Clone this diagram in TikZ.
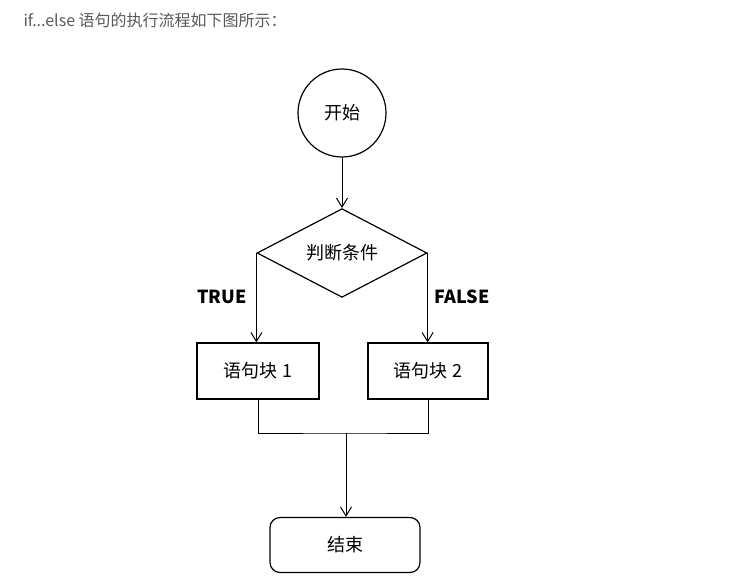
\documentclass[tikz,border=0pt]{standalone}
\usepackage{fontspec}
\setmainfont{Noto Sans CJK SC}
\usetikzlibrary{shapes.geometric,arrows.meta}
\begin{document}
\begin{tikzpicture}[x=1pt,y=-1pt,
  every node/.style={font=\fontsize{18}{20}\selectfont},
  boxst/.style={draw,line width=1.2pt,minimum width=122pt,minimum height=56pt,inner sep=0},
  arr/.style={-{Straight Barb[length=9pt,width=11pt]},line width=1pt},
  ln/.style={line width=1pt}]
\useasboundingbox (0,0) rectangle (738,583);
\node[anchor=west,text=black!65,font=\fontsize{16}{18}\selectfont] (title) at (20,20) {if...else 语句的执行流程如下图所示：};
\node[circle,draw,line width=1.2pt,minimum size=88pt,inner sep=0] (start) at (342,113) {开始};
\node[diamond,draw,line width=1.2pt,minimum width=170pt,minimum height=86pt,inner sep=0] (cond) at (342,253) {判断条件};
\node[boxst] (b1) at (258,371) {语句块 1};
\node[boxst,minimum width=120pt] (b2) at (428,371) {语句块 2};
\node[boxst,rounded corners=10pt,minimum width=150pt,minimum height=55pt] (end) at (345,545) {结束};
\node[font=\fontsize{18}{20}\selectfont\bfseries] (t) at (222,297) {TRUE};
\node[font=\fontsize{18}{20}\selectfont\bfseries] (f) at (462,297) {FALSE};
\coordinate (j) at (346,433);
\draw[arr] (start) -- (cond);
\draw[arr] (cond.west) -- (cond.west |- b1.north);
\draw[arr] (cond.east) -- (cond.east |- b2.north);
\draw[ln] (b1.south) |- (j) -| (b2.south);
\draw[arr] (j) -- (j |- end.north);
\end{tikzpicture}
\end{document}
